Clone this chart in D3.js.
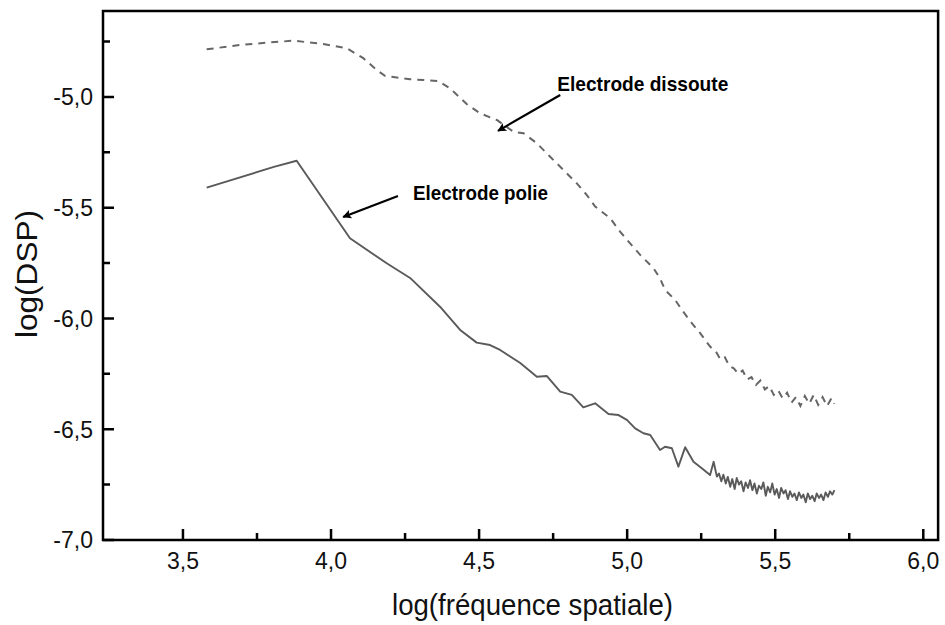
<!DOCTYPE html>
<html><head><meta charset="utf-8">
<script src="https://cdn.jsdelivr.net/npm/d3@7"></script>
<style>body{margin:0;background:#fff}svg{display:block}</style>
</head><body>
<svg id="c" width="945" height="625"></svg>
<script>
// ---- data ----
const polieX = [3.580,3.807,3.884,4.064,4.188,4.267,4.368,4.436,4.492,4.537,4.571,4.639,4.695,4.729,4.774,4.813,4.852,4.892,4.937,4.971,4.999,5.027,5.055,5.078,5.111,5.128,5.151,5.173,5.196,5.224,5.252,5.280,5.292,5.303,
5.310,5.318,5.325,5.333,5.340,5.348,5.355,5.363,5.370,5.378,5.385,5.393,5.400,5.408,5.415,5.423,5.430,5.438,5.445,5.453,5.460,5.468,5.475,5.483,5.490,5.498,5.505,5.513,5.520,5.528,5.535,5.543,5.550,5.558,5.565,5.573,5.580,5.588,5.595,5.603,5.610,5.618,5.625,5.633,5.640,5.648,5.655,5.663,5.670,5.678,5.685,5.693,5.700];
const polieY = [-5.409,-5.316,-5.288,-5.638,-5.751,-5.817,-5.947,-6.052,-6.109,-6.120,-6.142,-6.201,-6.263,-6.260,-6.330,-6.345,-6.401,-6.383,-6.431,-6.436,-6.458,-6.496,-6.518,-6.526,-6.594,-6.579,-6.586,-6.669,-6.581,-6.647,-6.676,-6.707,-6.647,-6.714,
-6.700,-6.735,-6.705,-6.745,-6.715,-6.760,-6.725,-6.770,-6.720,-6.750,-6.735,-6.780,-6.740,-6.765,-6.730,-6.775,-6.745,-6.790,-6.755,-6.770,-6.740,-6.800,-6.760,-6.785,-6.745,-6.795,-6.770,-6.810,-6.765,-6.790,-6.775,-6.815,-6.780,-6.805,-6.790,-6.820,-6.785,-6.810,-6.795,-6.830,-6.790,-6.815,-6.800,-6.825,-6.790,-6.810,-6.795,-6.820,-6.785,-6.805,-6.780,-6.795,-6.775];
const dissX = [3.580,3.693,3.783,3.873,3.974,4.053,4.109,4.154,4.182,4.267,4.362,4.402,4.458,4.503,4.560,4.616,4.650,4.695,4.740,4.785,4.830,4.864,4.892,4.943,4.976,5.010,5.044,5.089,5.111,5.128,5.162,5.185,5.219,5.247,5.280,
5.300,5.315,5.330,5.345,5.360,5.375,5.390,5.405,5.420,5.435,5.450,5.465,5.480,5.495,5.510,5.525,5.540,5.555,5.570,5.585,5.600,5.615,5.630,5.645,5.660,5.675,5.690,5.700];
const dissY = [-4.785,-4.765,-4.755,-4.746,-4.761,-4.780,-4.825,-4.878,-4.905,-4.920,-4.928,-4.961,-5.032,-5.074,-5.104,-5.157,-5.164,-5.209,-5.270,-5.330,-5.390,-5.443,-5.495,-5.548,-5.608,-5.661,-5.713,-5.773,-5.819,-5.871,-5.916,-5.962,-6.022,-6.067,-6.127,
-6.150,-6.185,-6.175,-6.215,-6.225,-6.250,-6.235,-6.275,-6.265,-6.300,-6.280,-6.320,-6.305,-6.345,-6.325,-6.360,-6.335,-6.380,-6.355,-6.395,-6.350,-6.385,-6.345,-6.390,-6.355,-6.395,-6.360,-6.385];
const xTicks = [3.5,4.0,4.5,5.0,5.5,6.0];
const xMinor = [3.75,4.25,4.75,5.25,5.75];
const yTicks = [-7.0,-6.5,-6.0,-5.5,-5.0];
const yMinor = [-6.75,-6.25,-5.75,-5.25,-4.75];
const xTitle = "log(fréquence spatiale)";
const yTitle = "log(DSP)";
const notes = [
  {text:"Electrode dissoute", tx:4.764, ty:-4.973, len:171, x0:4.774, y0:-4.991, x1:4.564, y1:-5.153},
  {text:"Electrode polie",    tx:4.277, ty:-5.465, len:135, x0:4.226, y0:-5.447, x1:4.041, y1:-5.542}
];

// ---- drawing ----
const svg = d3.select("#c");
const L=103, R=938.1, T=11, B=540;
const x = d3.scaleLinear().domain([3.23,6.05]).range([L,R]);
const y = d3.scaleLinear().domain([-7,-4.612]).range([B,T]);
const fmt = v => d3.format(".1f")(v).replace(".",",").replace("−","-");
const font = "'Liberation Sans', Arial, sans-serif";

svg.append("rect").attr("width",945).attr("height",625).attr("fill","#fff");

const line = d3.line().x(d=>x(d[0])).y(d=>y(d[1]));
const polie = polieX.map((v,i)=>[v,polieY[i]]);
const diss = dissX.map((v,i)=>[v,dissY[i]]);

svg.append("path").datum(diss).attr("d",line).attr("fill","none")
  .style("stroke","#666").style("stroke-width","2px").style("stroke-dasharray","7,6");
svg.append("path").datum(polie).attr("d",line).attr("fill","none")
  .style("stroke","#5a5a5a").style("stroke-width","1.9px").style("stroke-linejoin","round");

// frame
svg.append("path")
  .attr("d",`M${L},${T}H${R}V${B}H${L}Z`)
  .style("fill","none").style("stroke","#000").style("stroke-width","2.5px");

// ticks
const tk = [];
xTicks.forEach(v=>tk.push([x(v),B,x(v),B-11]));
xMinor.forEach(v=>tk.push([x(v),B,x(v),B-7]));
yTicks.forEach(v=>tk.push([L,y(v),L+11,y(v)]));
yMinor.forEach(v=>tk.push([L,y(v),L+7,y(v)]));
svg.append("path").attr("d",tk.map(t=>`M${t[0]},${t[1]}L${t[2]},${t[3]}`).join(""))
  .style("fill","none").style("stroke","#000").style("stroke-width","2.5px");

svg.selectAll(".xl").data(xTicks).join("text").attr("class","xl").attr("x",d=>x(d)).attr("y",569)
  .attr("text-anchor","middle").attr("font-family",font).attr("font-size",23).attr("fill","#111").text(fmt);
svg.selectAll(".yl").data(yTicks).join("text").attr("class","yl").attr("x",93).attr("y",d=>y(d)).attr("dy","0.36em")
  .attr("text-anchor","end").attr("font-family",font).attr("font-size",23).attr("fill","#111").text(fmt);

svg.append("text").attr("x",392).attr("y",615).attr("textLength",281).attr("lengthAdjust","spacingAndGlyphs")
  .attr("font-family",font).attr("font-size",30).attr("fill","#111").text(xTitle);
svg.append("text").attr("transform","translate(37,338) rotate(-90)").attr("textLength",128).attr("lengthAdjust","spacingAndGlyphs")
  .attr("font-family",font).attr("font-size",29).attr("fill","#111").text(yTitle);

// annotations
const defs = svg.append("defs");
defs.append("marker").attr("id","ah").attr("viewBox","0 0 10 10").attr("refX",9).attr("refY",5)
  .attr("markerWidth",5).attr("markerHeight",4).attr("markerUnits","strokeWidth").attr("orient","auto")
  .append("path").attr("d","M0,0 L10,5 L0,10 L2,5 Z").attr("fill","#000");
notes.forEach(n=>{
  svg.append("line").attr("x1",x(n.x0)).attr("y1",y(n.y0)).attr("x2",x(n.x1)).attr("y2",y(n.y1))
    .style("stroke","#000").style("stroke-width","2.2px").attr("marker-end","url(#ah)");
  svg.append("text").attr("x",x(n.tx)).attr("y",y(n.ty)).attr("textLength",n.len).attr("lengthAdjust","spacingAndGlyphs")
    .attr("font-family",font).attr("font-weight","bold").attr("font-size",21).attr("fill","#000").text(n.text);
});
</script>
</body></html>
